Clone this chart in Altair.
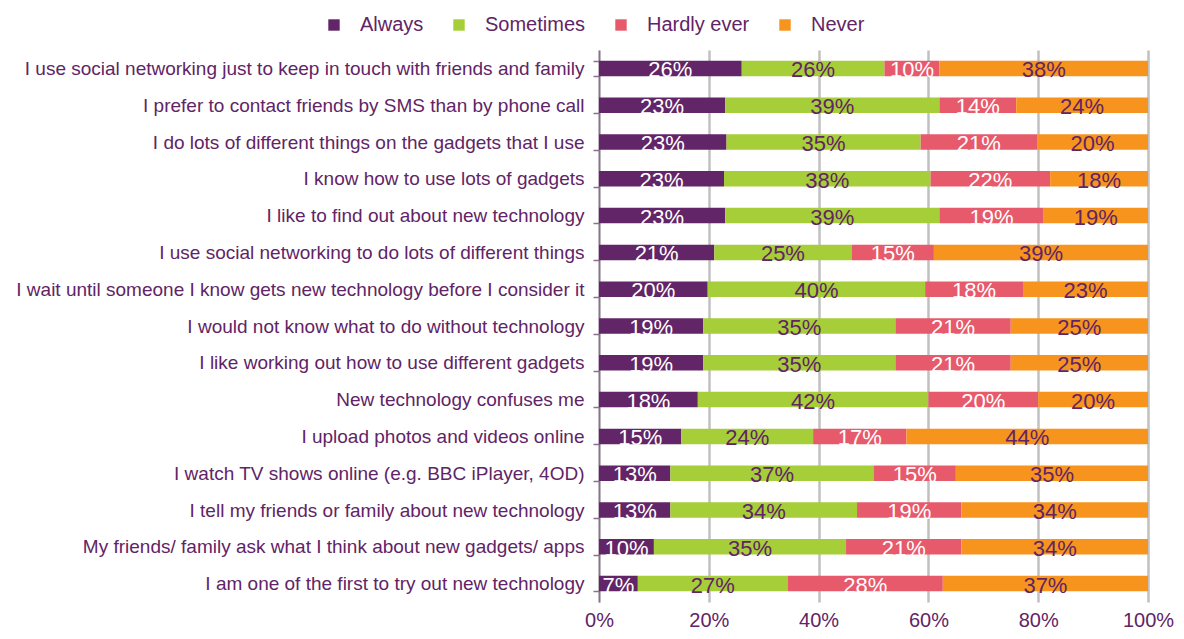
import altair as alt
import pandas as pd

items = [
    "I use social networking just to keep in touch with friends and family",
    "I prefer to contact friends by SMS  than by phone call ",
    "I do lots of different things on the gadgets that I use",
    "I know how to use lots of gadgets",
    "I like to find out about new technology",
    "I use social networking to do lots of different things ",
    "I wait until someone I know gets new technology before I consider it",
    "I would not know what to do without technology",
    "I like working out how to use different gadgets",
    "New technology confuses me",
    "I upload photos and videos online ",
    "I watch TV shows online (e.g. BBC iPlayer, 4OD)",
    "I tell my friends or family about new technology",
    "My friends/ family ask what I think about new gadgets/ apps",
    "I am one of the first to try out new technology",
]
categories = ["Always", "Sometimes", "Hardly ever", "Never"]
always = [26, 23, 23, 23, 23, 21, 20, 19, 19, 18, 15, 13, 13, 10, 7]
sometimes = [26, 39, 35, 38, 39, 25, 40, 35, 35, 42, 24, 37, 34, 35, 27]
hardly = [10, 14, 21, 22, 19, 15, 18, 21, 21, 20, 17, 15, 19, 21, 28]
never = [38, 24, 20, 18, 19, 39, 23, 25, 25, 20, 44, 35, 34, 34, 37]
colors = ["#622567", "#a6ce39", "#e65a6b", "#f7941d"]

rows = []
for i, it in enumerate(items):
    for k, (c, vals) in enumerate(zip(categories, [always, sometimes, hardly, never])):
        rows.append({"item": it, "cat": c, "ord": k, "value": vals[i]})
df = pd.DataFrame(rows)

PURPLE = "#612466"
FONT = "Liberation Sans"

base = alt.Chart(df).transform_stack(
    stack="value", groupby=["item"], sort=[alt.SortField("ord")],
    offset="normalize", as_=["x0", "x1"]
).transform_calculate(mid="(datum.x0 + datum.x1) / 2",
                      label="datum.value + '%'")

y_enc = alt.Y("item:N", sort=items, title=None,
              scale=alt.Scale(paddingInner=0.58, paddingOuter=0.29),
              axis=alt.Axis(labelFont=FONT, labelFontSize=19,
                            labelColor=PURPLE, labelLimit=650, labelPadding=9,
                            tickBand="extent", tickSize=6, tickColor="#8e6f90",
                            domainColor="#8e6f90", domainWidth=1.5, tickWidth=1.5,
                            grid=False))

bars = base.mark_bar().encode(
    x=alt.X("x0:Q", scale=alt.Scale(domain=[0, 1], nice=False),
            title=None,
            axis=alt.Axis(format="%", values=[0, 0.2, 0.4, 0.6, 0.8, 1.0],
                          labelFont=FONT, labelFontSize=20, labelFlush=False,
                          labelAlign="center",
                          labelColor=PURPLE, labelPadding=8, ticks=False,
                          domain=False, grid=True, gridColor="#c0c0c0",
                          gridWidth=2.5)),
    x2="x1:Q",
    y=y_enc,
    color=alt.Color("cat:N", sort=categories,
                    scale=alt.Scale(domain=categories, range=colors),
                    legend=alt.Legend(title=None, orient="none", direction="horizontal",
                                      legendX=-275, legendY=-35,
                                      symbolType="square", symbolSize=130,
                                      symbolStrokeWidth=0, symbolOpacity=1,
                                      labelFont=FONT, labelFontSize=20,
                                      labelColor=PURPLE, labelOffset=16,
                                      columnPadding=25)),
)

texts = base.mark_text(font=FONT, fontSize=22, baseline="middle",
                       dy=2).encode(
    x=alt.X("mid:Q"),
    y=alt.Y("item:N", sort=items),
    text="label:N",
    color=alt.condition(
        alt.FieldOneOfPredicate(field="cat", oneOf=["Always", "Hardly ever"]),
        alt.value("white"), alt.value(PURPLE)),
)

chart = alt.layer(bars, texts).properties(
    width=549, height=552,
    autosize=alt.AutoSizeParams(type="none"),
    padding={"left": 591, "top": 42, "right": 28, "bottom": 29},
).configure_view(stroke=None)

chart.save("out.html", embed_options={"renderer": "svg", "actions": False})
